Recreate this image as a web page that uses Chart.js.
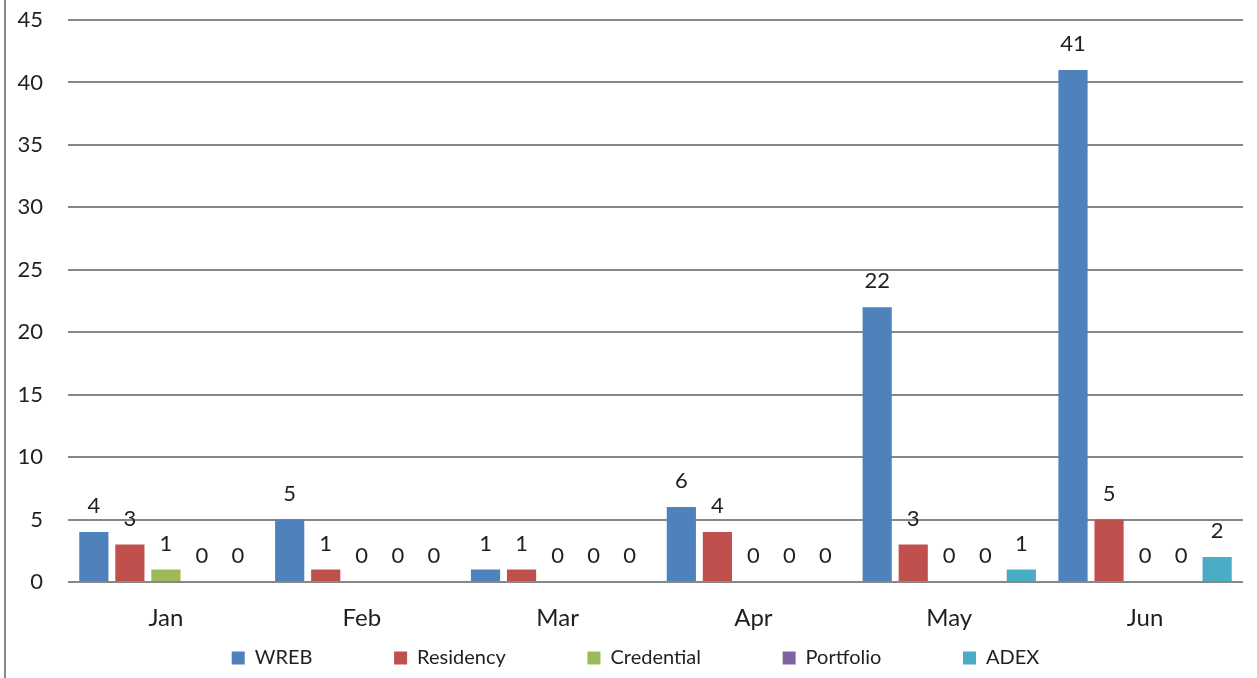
<!DOCTYPE html>
<html>
<head>
<meta charset="utf-8">
<script src="https://cdn.jsdelivr.net/npm/chart.js@4.4.1/dist/chart.umd.min.js"></script>
<style>
  html, body { margin: 0; padding: 0; background: #fff; }
  #wrap { position: relative; width: 1257px; height: 678px; }
</style>
</head>
<body>
<div id="wrap"><canvas id="chart"></canvas></div>
<script>
// datos de la gráfica
const meses = ["Jan", "Feb", "Mar", "Apr", "May", "Jun"];
const wreb = [4, 5, 1, 6, 22, 41];
const residency = [3, 1, 1, 4, 3, 5];
const credential = [1, 0, 0, 0, 0, 0];
const portfolio = [0, 0, 0, 0, 0, 0];
const adex = [0, 0, 0, 0, 1, 2];
const yTicks = [0, 5, 10, 15, 20, 25, 30, 35, 40, 45];

const FUENTE = "Lato, 'Open Sans', sans-serif";
const GRIS = "#878787";
const TEXTO = "#1f1f1f";
const LEGEND_GAP = 72;   // espacio extra entre elementos de la leyenda
const LEGEND_SHIFT = 14; // desplaza la leyenda a la derecha

// etiquetas de valor encima de cada barra
const etiquetasValor = {
  id: "etiquetasValor",
  afterDatasetsDraw(chart) {
    const ctx = chart.ctx;
    ctx.save();
    ctx.font = `22px ${FUENTE}`;
    ctx.fillStyle = TEXTO;
    ctx.textAlign = "center";
    ctx.textBaseline = "middle";
    chart.data.datasets.forEach((ds, i) => {
      chart.getDatasetMeta(i).data.forEach((bar, j) => {
        ctx.fillText(ds.data[j], bar.x, bar.y - 26);
      });
    });
    ctx.restore();
  }
};

// línea gris del borde izquierdo + ajuste de la leyenda
const bordeIzq = {
  id: "bordeIzq",
  afterLayout(chart) {
    if (chart.legend) {
      chart.legend.left += LEGEND_SHIFT;
      chart.legend.right += LEGEND_SHIFT;
    }
  },
  beforeDraw(chart) {
    const ctx = chart.ctx;
    ctx.save();
    ctx.strokeStyle = GRIS;
    ctx.lineWidth = 2;
    ctx.beginPath();
    ctx.moveTo(5, 0);
    ctx.lineTo(5, chart.height);
    ctx.stroke();
    ctx.restore();
  }
};

const ctx = document.getElementById("chart").getContext("2d");
ctx.font = `20px ${FUENTE}`;
const espacio = ctx.measureText(" ").width || 4;

function serie(label, data, color) {
  return { label, data, backgroundColor: color, borderWidth: 0 };
}

new Chart(ctx, {
  type: "bar",
  data: {
    labels: meses,
    datasets: [
      serie("WREB", wreb, "#4F81BD"),
      serie("Residency", residency, "#C0504D"),
      serie("Credential", credential, "#9BBB59"),
      serie("Portfolio", portfolio, "#8064A2"),
      serie("ADEX", adex, "#4BACC6")
    ]
  },
  options: {
    responsive: true,
    maintainAspectRatio: false,
    animation: false,
    categoryPercentage: 0.92,
    barPercentage: 0.81,
    layout: { padding: { top: 20, right: 14, bottom: 0, left: 0 } },
    plugins: {
      tooltip: { enabled: false },
      legend: {
        position: "bottom",
        labels: {
          boxWidth: 13,
          boxHeight: 13,
          padding: 10,
          color: TEXTO,
          font: { family: FUENTE, size: 20 },
          generateLabels(chart) {
            const items = Chart.defaults.plugins.legend.labels.generateLabels(chart);
            const n = Math.round(LEGEND_GAP / espacio);
            items.forEach((it, i) => {
              it.lineWidth = 0;
              if (i < items.length - 1) it.text = it.text + " ".repeat(n);
            });
            return items;
          }
        }
      }
    },
    scales: {
      x: {
        grid: { display: false },
        border: { display: false },
        ticks: { color: TEXTO, padding: 14, font: { family: FUENTE, size: 24 } },
        afterFit(scale) { scale.height = 56; }
      },
      y: {
        min: 0,
        max: 45,
        afterBuildTicks(scale) { scale.ticks = yTicks.map(v => ({ value: v })); },
        grid: { color: GRIS, lineWidth: 2, drawTicks: false },
        border: { display: false },
        ticks: { color: TEXTO, padding: 25, font: { family: FUENTE, size: 22 } },
        afterFit(scale) {
          scale.width = 68;
          scale.paddingTop = 0;
          scale.paddingBottom = 0;
        }
      }
    }
  },
  plugins: [etiquetasValor, bordeIzq]
});
</script>
</body>
</html>
